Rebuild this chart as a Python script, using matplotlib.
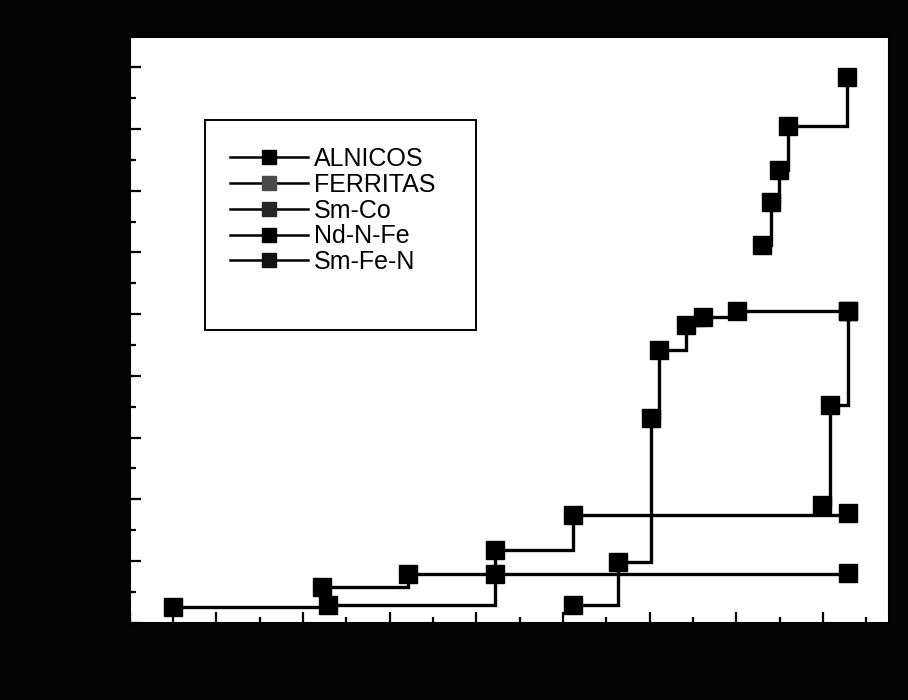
import matplotlib
matplotlib.use("Agg")
import matplotlib.pyplot as plt
from matplotlib.lines import Line2D
from matplotlib.patches import Rectangle
from matplotlib.ticker import MultipleLocator

plt.rcParams['font.family'] = ['Liberation Sans', 'DejaVu Sans']

# values (x ~ year, y ~ energy product)
labels = ["ALNICOS", "FERRITAS", "Sm-Co", "Nd-N-Fe", "Sm-Fe-N"]

alnicos_x = [1925.0, 1942.9, 1962.2, 1971.2, 2002.9]
alnicos_y = [13, 14, 59, 87, 89]

ferritas_x = [1942.2, 1952.1, 1962.2, 2002.9]
ferritas_y = [29, 39.5, 39.5, 40]

smco_x = [1971.2, 1976.3, 1980.2, 1981.1, 1984.2, 1986.2, 1990.1, 2002.9]
smco_y = [14, 49, 166, 221, 241, 248, 252.5, 252.5]

ndfe_x = [1992.9, 1994.0, 1994.9, 1995.9, 2002.8]
ndfe_y = [306, 341, 367, 402, 442]

smfen_x = [1999.9, 2000.8, 2002.9]
smfen_y = [95, 176, 252.5]

series = [
    (alnicos_x, alnicos_y),
    (ferritas_x, ferritas_y),
    (smco_x, smco_y),
    (ndfe_x, ndfe_y),
    (smfen_x, smfen_y),
]
legend_colors = ["#000000", "#4a4a4a", "#262626", "#000000", "#111111"]

fig = plt.figure(figsize=(9.08, 7.0), dpi=100, facecolor="#050505")
ax = fig.add_axes([129.5 / 908, 1 - 622.7 / 700, (889 - 129.5) / 908, (622.7 - 37) / 700])
ax.set_facecolor("white")

for (xs, ys) in series:
    ax.plot(xs, ys, color="black", lw=2.4, drawstyle="steps-post",
            marker="s", markersize=13, markerfacecolor="black",
            markeredgecolor="black", solid_joinstyle="miter")

ax.set_xlim(1920, 2007.6)
ax.set_ylim(0, 474.5)

ax.xaxis.set_major_locator(MultipleLocator(10))
ax.xaxis.set_minor_locator(MultipleLocator(5))
ax.yaxis.set_major_locator(MultipleLocator(50))
ax.yaxis.set_minor_locator(MultipleLocator(25))
ax.tick_params(which="both", direction="in", colors="black", width=1.6,
               labelleft=False, labelbottom=False, top=False, right=False)
ax.tick_params(which="major", length=8)
ax.tick_params(which="minor", length=4)
for s in ax.spines.values():
    s.set_color("black")
    s.set_linewidth(1.5)

# legend with proxy handles (thinner lines, smaller squares)
handles = [Line2D([], [], color="black", lw=1.8, marker="s", markersize=10,
                  markerfacecolor=c, markeredgecolor=c, label=lab)
           for lab, c in zip(labels, legend_colors)]
ax.legend(handles=handles, loc="upper left",
          bbox_to_anchor=(230 / 908, 1 - 147 / 700), bbox_transform=fig.transFigure,
          frameon=False, borderpad=0, borderaxespad=0, fontsize=18,
          handlelength=3.1, handletextpad=0.25, labelspacing=0.07)

fig.add_artist(Rectangle((205 / 908, 1 - 330 / 700), (476 - 205) / 908, 210 / 700,
                         transform=fig.transFigure, fill=False, ec="black", lw=1.4))

fig.savefig("out.png", dpi=100, facecolor=fig.get_facecolor())
